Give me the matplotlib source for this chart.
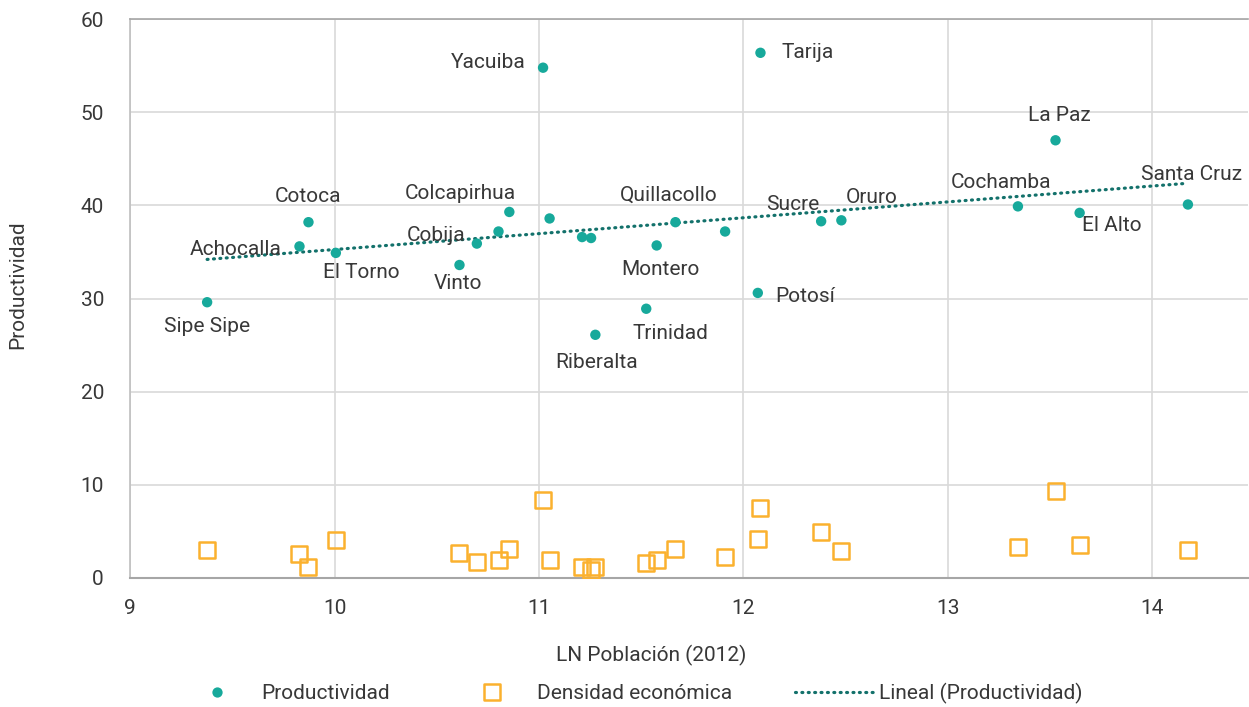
import numpy as np
import matplotlib
matplotlib.use("Agg")
import matplotlib.pyplot as plt
from matplotlib.markers import MarkerStyle
from matplotlib.lines import Line2D

plt.rcParams["font.family"] = ["Roboto", "DejaVu Sans"]

# Municipios (empty name = point without label)
municipios = ["Sipe Sipe", "Achocalla", "Cotoca", "El Torno", "Vinto", "Cobija", "",
              "Colcapirhua", "Yacuiba", "", "", "", "Riberalta", "Trinidad", "Montero",
              "Quillacollo", "", "Potosí", "Tarija", "Sucre", "Oruro", "Cochamba",
              "La Paz", "El Alto", "Santa Cruz"]
ln_poblacion = [9.376, 9.828, 9.872, 10.006, 10.611, 10.696, 10.802,
                10.855, 11.020, 11.052, 11.211, 11.255, 11.276, 11.525, 11.576,
                11.668, 11.911, 12.071, 12.084, 12.381, 12.480, 13.344,
                13.528, 13.646, 14.176]
productividad = [29.6, 35.6, 38.2, 34.9, 33.6, 35.9, 37.2,
                 39.3, 54.8, 38.6, 36.6, 36.5, 26.1, 28.9, 35.7,
                 38.2, 37.2, 30.6, 56.4, 38.3, 38.4, 39.9,
                 47.0, 39.2, 40.1]
densidad = [3.0, 2.6, 1.2, 4.1, 2.7, 1.7, 1.9,
            3.1, 8.4, 1.9, 1.2, 0.8, 1.2, 1.6, 1.9,
            3.1, 2.2, 4.2, 7.5, 4.9, 2.9, 3.3,
            9.3, 3.5, 3.0]

# Label offsets (points) relative to each productivity marker
label_offsets = {
    "Sipe Sipe": (0, -17.6), "Achocalla": (-45.9, -2.4), "Cotoca": (-0.4, 18.7),
    "El Torno": (18.0, -13.9), "Vinto": (-1.3, -13.0), "Cobija": (-29.3, 5.5),
    "Colcapirhua": (-35.3, 13.5), "Quillacollo": (-5.0, 19.4), "Montero": (3.0, -17.6),
    "Potosí": (34.3, -2.4), "Trinidad": (17.3, -18.0), "Riberalta": (1.2, -19.9),
    "Sucre": (-20.3, 11.8), "Oruro": (22.1, 16.3), "Yacuiba": (-39.4, 3.4),
    "Tarija": (33.6, 0.0), "La Paz": (2.9, 17.8), "Cochamba": (-12.1, 17.3),
    "El Alto": (23.5, -9.1), "Santa Cruz": (2.7, 21.9),
}

teal = "#17A99B"
orange = "#FBB12E"
trend_col = "#13716B"
text_col = "#383838"
grid_col = "#D9D9D9"
fs = 15

W, H = 1249, 707
fig = plt.figure(figsize=(W / 100, H / 100), dpi=100)
left, right, top, bottom = 130.3, 1248.0, 19.3, 577.7
ax = fig.add_axes([left / W, 1 - bottom / H, (right - left) / W, (bottom - top) / H])

x = np.array(ln_poblacion)
yp = np.array(productividad)
yd = np.array(densidad)

# Economic density: open rounded squares
sq = MarkerStyle("s", fillstyle="none", joinstyle="round")
ax.plot(x, yd, linestyle="none", marker=sq, markersize=11.3, markeredgewidth=1.8,
        color=orange, zorder=3)

# Productivity: filled circles
ax.scatter(x, yp, s=56, color=teal, edgecolors="none", zorder=4)

# Linear trend on productivity
slope, intercept = np.polyfit(x, yp, 1)
xt = np.array([x.min(), x.max()])
ax.plot(xt, slope * xt + intercept, color=trend_col, lw=2.3,
        linestyle=(0, (0.3, 1.7)), dash_capstyle="round", zorder=3)

for name, xi, yi in zip(municipios, x, yp):
    if name:
        dx, dy = label_offsets[name]
        ax.annotate(name, (xi, yi), xytext=(dx, dy), textcoords="offset points",
                    ha="center", va="center", fontsize=fs, color=text_col)

ax.set_xlim(9, 14.47)
ax.set_ylim(0, 60)
ax.set_xticks([9, 10, 11, 12, 13, 14])
ax.set_yticks(np.arange(0, 61, 10))
ax.grid(True, color=grid_col, lw=1.2)
ax.set_axisbelow(True)
ax.tick_params(length=0, labelsize=fs, labelcolor=text_col)
ax.tick_params(axis="y", pad=19)
ax.tick_params(axis="x", pad=15)

ax.spines["right"].set_visible(False)
ax.spines["left"].set_color("#BFBFBF")
ax.spines["left"].set_linewidth(1.2)
ax.spines["bottom"].set_color("#A6A6A6")
ax.spines["bottom"].set_linewidth(1.5)
ax.spines["top"].set_color("#A6A6A6")
ax.spines["top"].set_linewidth(1.2)

ax.set_xlabel("LN Población (2012)", fontsize=fs, color=text_col)
ax.xaxis.set_label_coords((651 - left) / (right - left), (bottom - 645) / (bottom - top))
ax.set_ylabel("Productividad", fontsize=fs, color=text_col)
ax.yaxis.set_label_coords((27 - left) / (right - left), (bottom - 285) / (bottom - top))

handles = [
    Line2D([], [], linestyle="none", marker="o", markersize=7.4, color=teal,
           markeredgewidth=0),
    Line2D([], [], linestyle="none", marker=sq, markersize=11.3, markeredgewidth=1.8,
           color=orange),
    Line2D([], [], color=trend_col, lw=2.3, linestyle=(0, (0.3, 1.7)),
           dash_capstyle="round"),
]
leg = fig.legend(handles, ["Productividad", "Densidad económica", "Lineal (Productividad)"],
                 loc="center", bbox_to_anchor=(630 / W, 1 - 693 / H), ncol=3,
                 frameon=False, handlelength=3.8, handletextpad=0.25, columnspacing=3.0,
                 prop={"size": fs})
for t in leg.get_texts():
    t.set_color(text_col)

fig.savefig("out.png", dpi=100)
